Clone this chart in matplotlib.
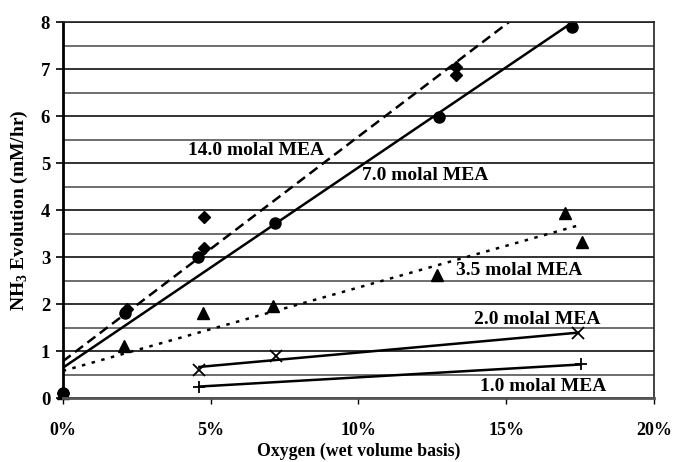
import numpy as np
import matplotlib.pyplot as plt
from matplotlib.ticker import FuncFormatter, MultipleLocator

plt.rcParams['font.family'] = ['Liberation Serif', 'DejaVu Serif']
plt.rcParams['font.weight'] = 'bold'

# oxygen (%) and NH3 evolution (mM/hr)
x_14 = [0.0, 2.16, 4.77, 4.77, 13.28, 13.28]
y_14 = [0.12, 1.90, 3.21, 3.86, 6.88, 7.06]

x_7 = [0.0, 2.10, 4.58, 7.17, 12.71, 17.22]
y_7 = [0.12, 1.81, 3.01, 3.74, 5.98, 7.91]

x_35 = [0.0, 2.07, 4.73, 7.12, 12.64, 16.97, 17.57]
y_35 = [0.12, 1.11, 1.82, 1.97, 2.63, 3.95, 3.33]

x_2 = [4.62, 7.20, 17.42]
y_2 = [0.60, 0.90, 1.38]

x_1 = [4.62, 17.51]
y_1 = [0.25, 0.72]

labels = ['14.0 molal MEA', '7.0 molal MEA', '3.5 molal MEA',
          '2.0 molal MEA', '1.0 molal MEA']

fig = plt.figure(figsize=(6.75, 4.62), dpi=100)
ax = fig.add_axes([0.0929, 0.1379, 0.8764, 0.8134])

ax.set_xlim(0, 20)
ax.set_ylim(0, 8)

# grid at every 0.5
ax.yaxis.set_major_locator(MultipleLocator(1))
ax.yaxis.set_minor_locator(MultipleLocator(0.5))
ax.grid(axis='y', which='major', color='#222222', lw=1.3)
ax.grid(axis='y', which='minor', color='#555555', lw=1.2)
ax.set_axisbelow(True)


def trend(x, y, x0, x1):
    m, b = np.polyfit(x, y, 1)
    xs = np.array([x0, x1])
    return xs, m * xs + b


# markers first (trend lines over them like Excel)
ax.plot(x_14, y_14, 'D', color='black', ms=6.5, ls='none', clip_on=False)
ax.plot(x_7, y_7, 'o', color='black', ms=8, ls='none', clip_on=False)
ax.plot(x_35, y_35, '^', color='black', ms=8, ls='none', clip_on=False)
ax.plot(x_2, y_2, 'x', color='black', ms=8, mew=1.3, ls='none')
ax.plot(x_1, y_1, '+', color='black', ms=8, mew=1.3, ls='none')

xs, ys = trend(x_14, y_14, 0, 17.6)
ax.plot(xs, ys, color='black', lw=1.8, dashes=(4, 2.2))
xs, ys = trend(x_7, y_7, 0, max(x_7))
ax.plot(xs, ys, color='black', lw=1.8)
xs, ys = trend(x_35, y_35, 0, 17.4)
ax.plot(xs, ys, color='black', lw=1.8, dashes=(1.4, 2.6))
xs, ys = trend(x_2, y_2, min(x_2), max(x_2))
ax.plot(xs, ys, color='black', lw=1.8)
xs, ys = trend(x_1, y_1, min(x_1), max(x_1))
ax.plot(xs, ys, color='black', lw=1.8)

lab_pos = [(6.55, 5.28), (12.27, 4.74), (15.42, 2.73), (16.06, 1.67), (16.23, 0.25)]
for t, (px, py) in zip(labels, lab_pos):
    ax.text(px, py, t, ha='center', va='center', fontsize=14, fontweight='bold')

ax.set_xticks([0, 5, 10, 15, 20])
ax.xaxis.set_major_formatter(FuncFormatter(lambda v, p: '%d%%' % v))
ax.tick_params(axis='x', which='major', direction='out', length=4, width=1,
               pad=13, labelsize=13)
ax.tick_params(axis='y', which='major', direction='out', length=5, width=1.2,
               pad=4, labelsize=13.5)
ax.tick_params(axis='y', which='minor', length=0)

for s in ['top', 'right']:
    ax.spines[s].set_linewidth(1.2)
    ax.spines[s].set_color('#222222')
ax.spines['left'].set_linewidth(2)
ax.spines['bottom'].set_linewidth(2)
ax.spines['bottom'].set_color('#555555')

ax.set_xlabel('Oxygen (wet volume basis)', fontsize=12.8, fontweight='bold', labelpad=3)
ax.set_ylabel(r'NH$_\mathregular{3}$ Evolution (mM/hr)', fontsize=14,
              fontweight='bold', labelpad=8)

fig.savefig('out.png', dpi=100)
